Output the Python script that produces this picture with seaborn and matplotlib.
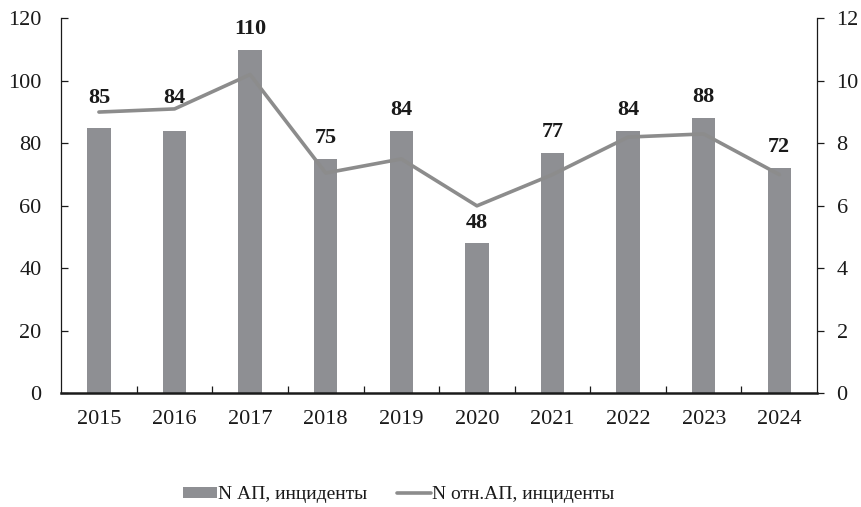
import matplotlib
matplotlib.use("Agg")
import matplotlib.pyplot as plt
import seaborn as sns
import numpy as np
import pandas as pd
from matplotlib.patches import Patch
from matplotlib.lines import Line2D
from matplotlib.ticker import FixedLocator

years = ["2015", "2016", "2017", "2018", "2019", "2020", "2021", "2022", "2023", "2024"]
n_ap = [85, 84, 110, 75, 84, 48, 77, 84, 88, 72]
n_rel_ap = [9.0, 9.1, 10.2, 7.05, 7.5, 6.0, 7.0, 8.2, 8.3, 7.0]
left_ticks = [0, 20, 40, 60, 80, 100, 120]
right_ticks = [0, 2, 4, 6, 8, 10, 12]
bar_label = "N АП, инциденты"
line_label = "N отн.АП, инциденты"

# label vertical offsets in points (style only)
label_offsets = [21.5, 23.5, 15, 15, 15, 15, 15, 15, 15, 15]

sns.set_theme(style="white")
plt.rcParams["font.family"] = ["Liberation Serif", "DejaVu Serif"]

bar_color = "#8e8f93"
line_color = "#8c8c8c"

fig = plt.figure(figsize=(8.61, 5.07), dpi=100)
ax = fig.add_axes([0.071, 0.224, 0.878, 0.74])

df = pd.DataFrame({"year": years, "n": n_ap})
sns.barplot(data=df, x="year", y="n", color=bar_color, width=0.31, ax=ax,
            saturation=1, edgecolor="none")
ax.set_xlim(-0.5, len(years) - 0.5)
ax.set_ylim(0, 120)
ax.set_yticks(left_ticks)
ax.set_xlabel("")
ax.set_ylabel("")

for i, (v, off) in enumerate(zip(n_ap, label_offsets)):
    ax.annotate(str(v), xy=(i, v), xytext=(0, off), textcoords="offset points",
                ha="center", va="center", fontsize=16, fontweight="bold",
                color="#1a1a1a")

ax2 = ax.twinx()
ldf = pd.DataFrame({"pos": np.arange(len(years)), "v": n_rel_ap})
sns.lineplot(data=ldf, x="pos", y="v", color=line_color, linewidth=2.6, ax=ax2,
             legend=False)
ax2.set_ylim(0, 12)
ax2.set_yticks(right_ticks)
ax2.set_xlim(-0.5, len(years) - 0.5)
ax2.set_xlabel("")
ax2.set_ylabel("")

# spines
for a in (ax, ax2):
    a.spines["top"].set_visible(False)
    a.grid(False)
ax.spines["left"].set_color("#1a1a1a")
ax.spines["left"].set_linewidth(0.9)
ax.spines["bottom"].set_color("#1a1a1a")
ax.spines["bottom"].set_linewidth(1.8)
ax.spines["right"].set_visible(False)
ax2.spines["left"].set_visible(False)
ax2.spines["bottom"].set_visible(False)
ax2.spines["right"].set_color("#1a1a1a")
ax2.spines["right"].set_linewidth(0.9)

# ticks
ax.tick_params(axis="y", direction="in", length=5, width=0.9, color="#1a1a1a",
               labelsize=16, pad=14, labelcolor="#1a1a1a", left=True)
ax2.tick_params(axis="y", direction="out", length=5, width=0.9, color="#1a1a1a",
                labelsize=16, pad=9, labelcolor="#1a1a1a", right=True)
ax.tick_params(axis="x", which="major", length=0, labelsize=16, pad=12,
               labelcolor="#1a1a1a")
ax.xaxis.set_minor_locator(FixedLocator(np.arange(0.5, len(years) - 1, 1.0)))
ax.tick_params(axis="x", which="minor", direction="in", length=5, width=0.9,
               color="#1a1a1a", bottom=True)

handles = [Patch(facecolor=bar_color, edgecolor="none"),
           Line2D([0], [0], color=line_color, linewidth=2.6)]
fig.legend(handles, [bar_label, line_label], loc="center",
           bbox_to_anchor=(0.463, 0.024), ncol=2, frameon=False, fontsize=14,
           handlelength=1.75, handleheight=0.5, handletextpad=0.05,
           columnspacing=1.5, labelcolor="#1a1a1a")

fig.savefig("out.png", dpi=100)
